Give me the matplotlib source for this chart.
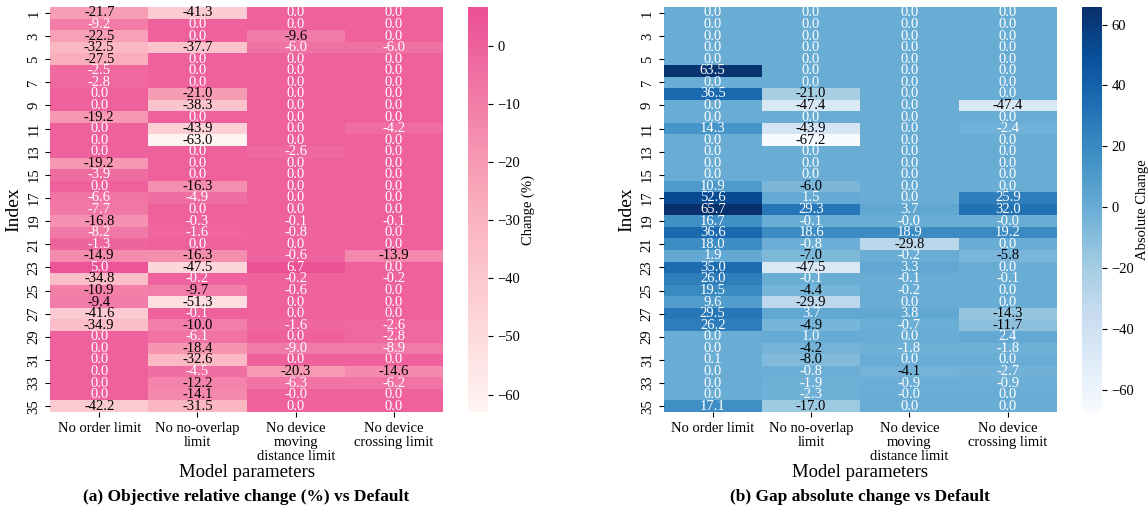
import numpy as np
import matplotlib
matplotlib.use("Agg")
import matplotlib.pyplot as plt
from matplotlib.colors import LinearSegmentedColormap
import seaborn as sns

plt.rcParams['font.family'] = ['Liberation Serif', 'DejaVu Serif']

params = ["No order limit", "No no-overlap\nlimit",
          "No device\nmoving\ndistance limit", "No device\ncrossing limit"]
index = list(range(1, 36))

# objective relative change (%) per instance, one list per parameter
obj_order = [-21.7, -9.2, -22.5, -32.5, -27.5, -2.5, -2.8, 0.0, 0.0, -19.2,
             0.0, 0.0, 0.0, -19.2, -3.9, 0.0, -6.6, -7.7, -16.8, -8.2,
             -1.3, -14.9, 5.0, -34.8, -10.9, -9.4, -41.6, -34.9, 0.0, 0.0,
             0.0, 0.0, 0.0, 0.0, -42.2]
obj_overlap = [-41.3, 0.0, 0.0, -37.7, 0.0, 0.0, 0.0, -21.0, -38.3, 0.0,
               -43.9, -63.0, 0.0, 0.0, 0.0, -16.3, -4.9, 0.0, -0.3, -1.6,
               0.0, -16.3, -47.5, -0.2, -9.7, -51.3, -0.1, -10.0, -6.1, -18.4,
               -32.6, -4.5, -12.2, -14.1, -31.5]
obj_moving = [0.0, 0.0, -9.6, -6.0, 0.0, 0.0, 0.0, 0.0, 0.0, 0.0,
              0.0, 0.0, -2.6, 0.0, 0.0, 0.0, 0.0, 0.0, -0.1, -0.8,
              0.0, -0.6, 6.7, -0.2, -0.6, 0.0, 0.0, -1.6, 0.0, -9.0,
              0.0, -20.3, -6.3, -0.0, 0.0]
obj_crossing = [0.0, 0.0, 0.0, -6.0, 0.0, 0.0, 0.0, 0.0, 0.0, 0.0,
                -4.2, 0.0, 0.0, 0.0, 0.0, 0.0, 0.0, 0.0, -0.1, 0.0,
                0.0, -13.9, 0.0, -0.2, 0.0, 0.0, 0.0, -2.6, -2.8, -8.9,
                0.0, -14.6, -6.2, 0.0, 0.0]

# gap absolute change per instance
gap_order = [0.0, 0.0, 0.0, 0.0, 0.0, 63.5, 0.0, 36.5, 0.0, 0.0,
             14.3, 0.0, 0.0, 0.0, 0.0, 10.9, 52.6, 65.7, 16.7, 36.6,
             18.0, 1.9, 35.0, 26.0, 19.5, 9.6, 29.5, 26.2, 0.0, 0.0,
             0.1, 0.0, 0.0, 0.0, 17.1]
gap_overlap = [0.0, 0.0, 0.0, 0.0, 0.0, 0.0, 0.0, -21.0, -47.4, 0.0,
               -43.9, -67.2, 0.0, 0.0, 0.0, -6.0, 1.5, 29.3, -0.1, 18.6,
               -0.8, -7.0, -47.5, -0.1, -4.4, -29.9, 3.7, -4.9, 1.0, -4.2,
               -8.0, -0.8, -1.9, -2.3, -17.0]
gap_moving = [0.0, 0.0, 0.0, 0.0, 0.0, 0.0, 0.0, 0.0, 0.0, 0.0,
              0.0, 0.0, 0.0, 0.0, 0.0, 0.0, 0.0, 3.7, -0.0, 18.9,
              -29.8, -0.2, 3.3, -0.1, -0.2, 0.0, 3.8, -0.7, 0.0, -1.8,
              0.0, -4.1, -0.9, -0.0, 0.0]
gap_crossing = [0.0, 0.0, 0.0, 0.0, 0.0, 0.0, 0.0, 0.0, -47.4, 0.0,
                -2.4, 0.0, 0.0, 0.0, 0.0, 0.0, 25.9, 32.0, -0.0, 19.2,
                0.0, -5.8, 0.0, -0.1, 0.0, 0.0, -14.3, -11.7, 2.4, -1.8,
                0.0, -2.7, -0.9, 0.0, 0.0]

obj = np.array([obj_order, obj_overlap, obj_moving, obj_crossing]).T
gap = np.array([gap_order, gap_overlap, gap_moving, gap_crossing]).T

pink = LinearSegmentedColormap.from_list(
    "pinks", ["#fff4f2", "#fab0bd", "#eb4f95"])

fig = plt.figure(figsize=(11.48, 5.13), dpi=100)
ax1 = fig.add_axes([0.0436, 0.197, 0.3425, 0.789])
cax1 = fig.add_axes([0.4077, 0.197, 0.0174, 0.789])
ax2 = fig.add_axes([0.578, 0.197, 0.3427, 0.789])
cax2 = fig.add_axes([0.9425, 0.197, 0.0174, 0.789])

annot_kw = {"fontsize": 10.5}

sns.heatmap(obj, ax=ax1, cbar_ax=cax1, cmap=pink, annot=True, fmt=".1f",
            annot_kws=annot_kw, xticklabels=params, yticklabels=index)
sns.heatmap(gap, ax=ax2, cbar_ax=cax2, cmap="Blues", annot=True, fmt=".1f",
            annot_kws=annot_kw, xticklabels=params, yticklabels=index)

# dark text only on the light cells
for ax, data, cut in [(ax1, obj, -9.3), (ax2, gap, -3.5)]:
    for txt, v in zip(ax.texts, data.ravel()):
        txt.set_color("white" if v > cut else "black")

for ax, x, title in [(ax1, 0.2147, "(a) Objective relative change (%) vs Default"),
                     (ax2, 0.7494, "(b) Gap absolute change vs Default")]:
    ax.set_yticks(np.arange(0.5, 35, 2))
    ax.set_yticklabels(index[::2], rotation=90, va="center", fontsize=10.5)
    ax.set_xticklabels(params, rotation=0, fontsize=10.5, linespacing=1.1)
    ax.set_ylabel("Index", fontsize=14)
    ax.set_xlabel("Model parameters", fontsize=13.5, labelpad=1)
    fig.text(x, 0.031, title, ha="center", va="center",
             fontsize=12.5, fontweight="bold")

for cax, lab in [(cax1, "Change (%)"), (cax2, "Absolute Change")]:
    cax.tick_params(labelsize=10.5)
    cax.set_ylabel(lab, fontsize=10.5, labelpad=1)

fig.savefig("out.png", dpi=100)
